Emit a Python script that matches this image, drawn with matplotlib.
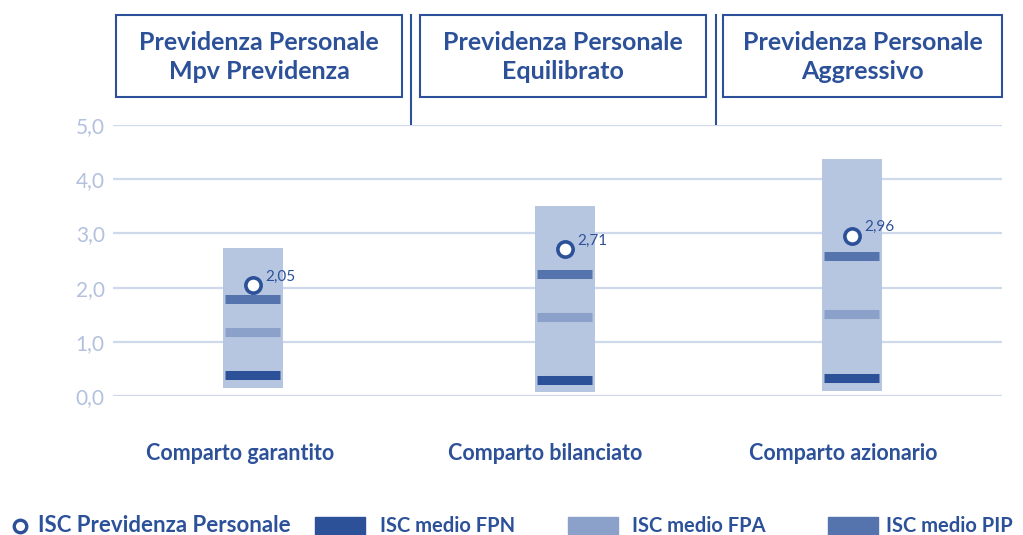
import matplotlib
matplotlib.use('Agg')
from matplotlib import pyplot as plt
from matplotlib.patches import Rectangle

plt.rcParams['font.family'] = ['Lato', 'DejaVu Sans']

# dati
comparti = ['Comparto garantito', 'Comparto bilanciato', 'Comparto azionario']
titoli = ['Previdenza Personale\nMpv Previdenza', 'Previdenza Personale\nEquilibrato',
          'Previdenza Personale\nAggressivo']
range_min = [0.15, 0.08, 0.10]
range_max = [2.73, 3.51, 4.38]
isc_fpn = [0.38, 0.30, 0.33]
isc_fpa = [1.19, 1.46, 1.51]
isc_pip = [1.79, 2.26, 2.58]
isc_pp = [2.05, 2.71, 2.96]
yticks = [0.0, 1.0, 2.0, 3.0, 4.0, 5.0]

c_dark = '#2c5199'
c_fpa = '#8ba1c9'
c_pip = '#5574ae'
c_range = '#b7c6e0'
c_grid = '#cfd9ec'
c_tick = '#b3c1de'

W, H = 1023, 535
fig = plt.figure(figsize=(W / 100, H / 100), dpi=100)

# assi principali: 0 a y=396px, 5 a y=125px
ax = fig.add_axes([113 / W, (H - 396) / H, (1002 - 113) / W, (396 - 125) / H])
ax.set_xlim(0, 3)
ax.set_ylim(0, 5)
xpos = [0.472, 1.525, 2.494]
bw = 0.2

ax.bar(xpos, [t - b for t, b in zip(range_max, range_min)], bottom=range_min,
       width=bw, color=c_range, zorder=2)
ax.hlines(isc_fpn, [x - bw / 2 + 0.005 for x in xpos], [x + bw / 2 - 0.01 for x in xpos],
          color=c_dark, lw=6.5, zorder=3)
ax.hlines(isc_fpa, [x - bw / 2 + 0.005 for x in xpos], [x + bw / 2 - 0.01 for x in xpos],
          color=c_fpa, lw=6.5, zorder=3)
ax.hlines(isc_pip, [x - bw / 2 + 0.005 for x in xpos], [x + bw / 2 - 0.01 for x in xpos],
          color=c_pip, lw=6.5, zorder=3)
ax.plot(xpos, isc_pp, 'o', ms=11, mfc='white', mec=c_dark, mew=2.6, zorder=4)
for x, v in zip(xpos, isc_pp):
    ax.annotate(('%.2f' % v).replace('.', ','), (x, v), xytext=(9, 1), textcoords='offset points',
                color=c_dark, fontsize=11, va='bottom', ha='left', zorder=5)

ax.set_yticks(yticks)
ax.set_yticklabels([('%.1f' % t).replace('.', ',') for t in yticks], color=c_tick, fontsize=15)
ax.set_xticks([])
ax.tick_params(axis='y', length=0, pad=6)
ax.grid(axis='y', color=c_grid, lw=1.6, zorder=0)
for s in ax.spines.values():
    s.set_visible(False)
ax.set_axisbelow(True)

# overlay in pixel per riquadri, divisori, etichette e legenda
ov = fig.add_axes([0, 0, 1, 1], zorder=-1)
ov.set_xlim(0, W)
ov.set_ylim(H, 0)
ov.axis('off')
ov.patch.set_alpha(0)

boxes = [(116, 402), (420, 706), (723, 1002)]
for (x0, x1), t in zip(boxes, titoli):
    ov.add_patch(Rectangle((x0, 15), x1 - x0, 82, fill=False, ec=c_dark, lw=1.5))
    ov.text((x0 + x1) / 2, 57, t, ha='center', va='center', color=c_dark,
            fontsize=18, fontweight='bold', linespacing=1.3)
for xd in [411, 716]:
    ov.plot([xd, xd], [15, 385], color=c_dark, lw=1.5)

for xc, t in zip([240, 545, 843], comparti):
    ov.text(xc, 454, t, ha='center', va='center', color=c_dark, fontsize=15.5, fontweight='bold')

# legenda
ly = 526
ov.plot([20], [ly], 'o', ms=9, mfc='white', mec=c_dark, mew=2.4)
ov.text(38, ly, 'ISC Previdenza Personale', va='center', ha='left', color=c_dark,
        fontsize=16, fontweight='bold')
for x0, xt, col, lab in [(315, 380, c_dark, 'ISC medio FPN'), (568, 632, c_fpa, 'ISC medio FPA'),
                         (828, 886, c_pip, 'ISC medio PIP')]:
    ov.add_patch(Rectangle((x0, ly - 9), 50, 18, color=col))
    ov.text(xt, ly, lab, va='center', ha='left', color=c_dark, fontsize=14.5, fontweight='bold')

fig.savefig('out.png', dpi=100)
